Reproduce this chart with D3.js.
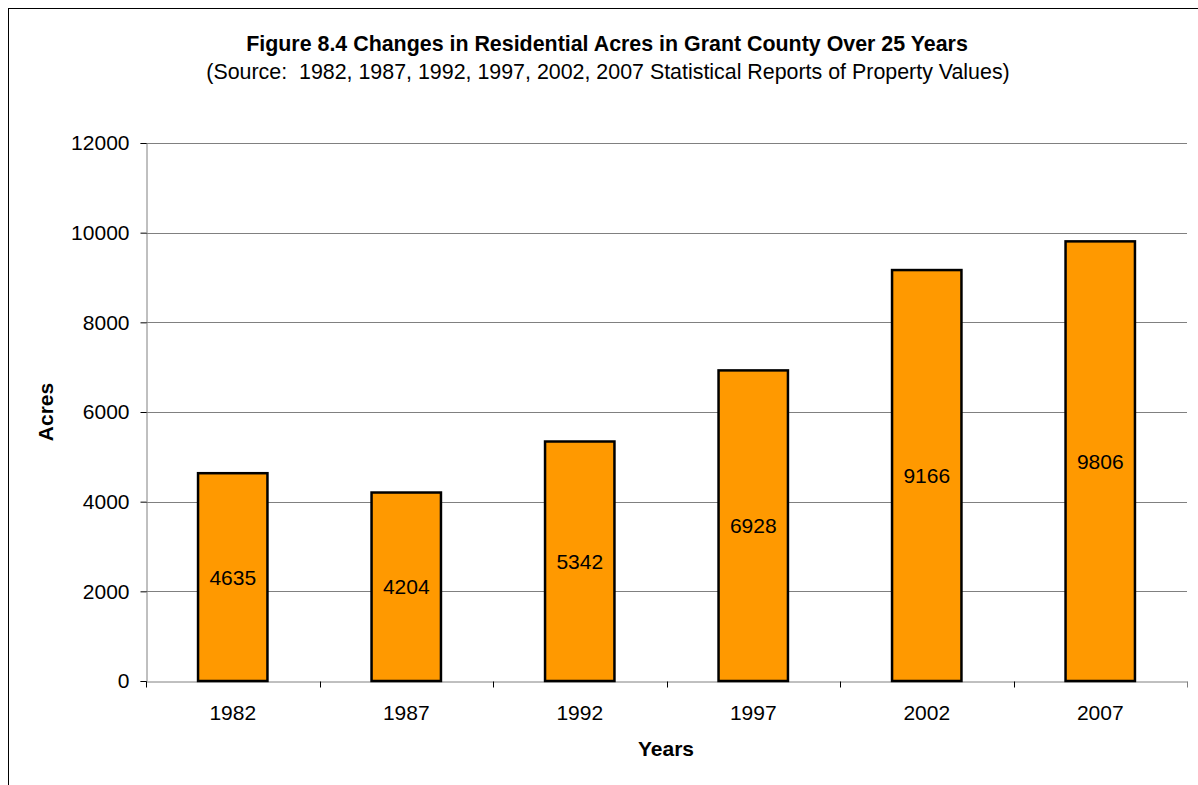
<!DOCTYPE html>
<html><head><meta charset="utf-8">
<script src="https://cdn.jsdelivr.net/npm/d3@7"></script>
<style>body{margin:0;background:#fff;} svg{display:block;font-family:"Liberation Sans",Arial,sans-serif;}</style>
</head><body>
<svg id="c" width="1198" height="785"></svg>
<script>
const years = ["1982","1987","1992","1997","2002","2007"];
const acres = [4635, 4204, 5342, 6928, 9166, 9806];
const yTicks = [0, 2000, 4000, 6000, 8000, 10000, 12000];
const titleText = "Figure 8.4 Changes in Residential Acres in Grant County Over 25 Years";
const subtitleText = "(Source:  1982, 1987, 1992, 1997, 2002, 2007 Statistical Reports of Property Values)";

const svg = d3.select("#c");
const m = {left:146, right:1187, top:143, bottom:681};
const FS = 21;

svg.append("rect").attr("x",8.5).attr("y",8.5).attr("width",1200).attr("height",800)
  .attr("fill","none").attr("stroke","#000").attr("stroke-width",1);

const x = d3.scaleBand().domain(years).range([m.left, m.right]).paddingInner(0.6).paddingOuter(0.3);
const xb = d3.scaleBand().domain(years).range([m.left, m.right]);
const y = d3.scaleLinear().domain([0,12000]).range([m.bottom, m.top]);

// gridlines
svg.append("g").selectAll("line").data(yTicks.filter(d=>d>0)).join("line")
  .attr("x1",m.left).attr("x2",m.right)
  .attr("y1",d=>Math.round(y(d))+0.5).attr("y2",d=>Math.round(y(d))+0.5)
  .attr("stroke","#808080").attr("stroke-width",1);

// y axis
const ya = svg.append("g").attr("transform",`translate(${m.left+0.5},0)`)
  .call(d3.axisLeft(y).tickValues(yTicks).tickSize(6).tickPadding(11).tickFormat(d3.format("d")));
ya.attr("font-size",null).attr("font-family",null);
ya.select(".domain").attr("stroke","#808080");
ya.selectAll(".tick line").attr("stroke","#000");
ya.selectAll("text").attr("font-size",FS).attr("fill","#000");

// x axis
const xa = svg.append("g").attr("transform",`translate(0,${m.bottom+0.5})`)
  .call(d3.axisBottom(xb).tickSize(0).tickPadding(24));
xa.attr("font-size",null).attr("font-family",null);
xa.select(".domain").attr("stroke","#808080");
xa.selectAll("text").attr("font-size",FS).attr("fill","#000");
xa.append("g").selectAll("line").data(years.concat(["end"])).join("line")
  .attr("x1",(d,i)=>Math.round(i<years.length?xb(d):m.right)+0.5)
  .attr("x2",(d,i)=>Math.round(i<years.length?xb(d):m.right)+0.5)
  .attr("y1",0).attr("y2",6).attr("stroke",(d,i)=>i<years.length?"#000":"#808080");

// bars
svg.append("g").selectAll("rect").data(years).join("rect")
  .attr("x",d=>x(d)).attr("width",x.bandwidth())
  .attr("y",(d,i)=>y(acres[i])).attr("height",(d,i)=>y(0)-y(acres[i]))
  .attr("fill","#ff9900").attr("stroke","#000").attr("stroke-width",2.5);

// value labels
svg.append("g").selectAll("text").data(years).join("text")
  .attr("x",d=>x(d)+x.bandwidth()/2)
  .attr("y",(d,i)=>(y(0)+y(acres[i]))/2)
  .attr("text-anchor","middle").attr("dominant-baseline","central")
  .attr("font-size",FS).attr("fill","#000")
  .text((d,i)=>acres[i]);

// titles
svg.append("text").attr("x",607).attr("y",51).attr("text-anchor","middle")
  .attr("font-size",21.4).attr("font-weight","bold").text(titleText);
svg.append("text").attr("x",608).attr("y",79).attr("text-anchor","middle")
  .attr("font-size",21.4).style("white-space","pre").attr("xml:space","preserve").text(subtitleText);

svg.append("text").attr("x",666).attr("y",756).attr("text-anchor","middle")
  .attr("font-size",FS).attr("font-weight","bold").text("Years");
svg.append("text").attr("transform","translate(53,412) rotate(-90)").attr("text-anchor","middle")
  .attr("font-size",FS).attr("font-weight","bold").text("Acres");
</script>
</body></html>
